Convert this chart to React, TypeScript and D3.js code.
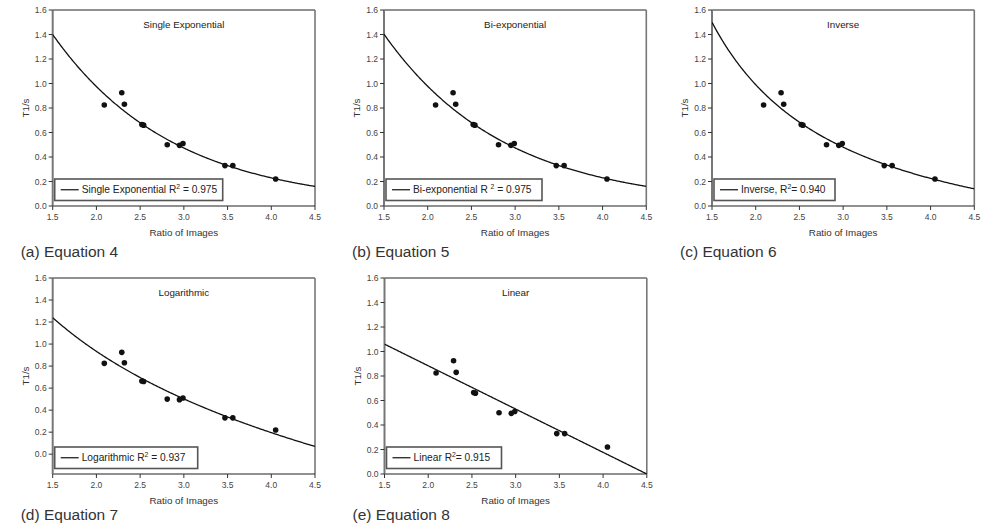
import React from "react";
import * as d3 from "d3";

// ---- data ----
const ratio = [2.09, 2.29, 2.32, 2.52, 2.54, 2.81, 2.95, 2.99, 3.47, 3.56, 4.05];
const t1 = [0.825, 0.925, 0.83, 0.665, 0.66, 0.5, 0.495, 0.51, 0.33, 0.33, 0.22];

const xTicks = [1.5, 2.0, 2.5, 3.0, 3.5, 4.0, 4.5];
const yTicks = [0.0, 0.2, 0.4, 0.6, 0.8, 1.0, 1.2, 1.4, 1.6];

const panelTitles = ["Single Exponential", "Bi-exponential", "Inverse", "Logarithmic", "Linear"];
const legendNames = ["Single Exponential R", "Bi-exponential R ", "Inverse, R", "Logarithmic R", "Linear R"];
const legendTails = [" = 0.975", " = 0.975", "= 0.940", " = 0.937", "= 0.915"];
const captions = ["(a) Equation 4", "(b) Equation 5", "(c) Equation 6", "(d) Equation 7", "(e) Equation 8"];

// fitted model coefficients
const singleExpFit = [4.14, 0.723]; // A, k : A*exp(-k x)
const biExpFit = [3.6, 0.715, 0.55, 0.78]; // A1,k1,A2,k2
const inverseFit = [-0.54, 3.06]; // a + b/x
const logFit = [1.672, -1.065]; // a + b ln x
const linearFit = [1.59, -0.3533]; // a + b x

const models: ((x: number) => number)[] = [
  (x) => singleExpFit[0] * Math.exp(-singleExpFit[1] * x),
  (x) => biExpFit[0] * Math.exp(-biExpFit[1] * x) + biExpFit[2] * Math.exp(-biExpFit[3] * x),
  (x) => inverseFit[0] + inverseFit[1] / x,
  (x) => logFit[0] + logFit[1] * Math.log(x),
  (x) => linearFit[0] + linearFit[1] * x,
];

// ---- layout ----
const layout = [
  { left: 52.7, top: 10, yMin: 0, legendW: 168 },
  { left: 384, top: 10, yMin: 0, legendW: 156 },
  { left: 712, top: 10, yMin: 0, legendW: 121 },
  { left: 52.7, top: 278, yMin: -0.18, legendW: 143 },
  { left: 384.5, top: 278, yMin: 0, legendW: 115 },
];
const PW = 262.3;
const PH = 196;
const FONT = "'Liberation Sans', Arial, Helvetica, sans-serif";

function Panel({ i }: { i: number }) {
  const L = layout[i];
  const x = d3.scaleLinear().domain([1.5, 4.5]).range([L.left, L.left + PW]);
  const y = d3.scaleLinear().domain([L.yMin, 1.6]).range([L.top + PH, L.top]);
  const bottom = L.top + PH;
  const right = L.left + PW;
  const xs = d3.range(1.5, 4.5001, 0.01);
  const line = d3
    .line<number>()
    .x((d) => x(d))
    .y((d) => y(models[i](d)));
  const clipId = `clip${i}`;
  const lx = L.left + 2;
  const ly = bottom - 27;
  const lh = 21.5;
  return (
    <g>
      <defs>
        <clipPath id={clipId}>
          <rect x={L.left} y={L.top} width={PW} height={PH} />
        </clipPath>
      </defs>
      {/* frame */}
      <line x1={L.left} x2={right} y1={L.top} y2={L.top} stroke="#222" strokeWidth={1} />
      <line x1={right} x2={right} y1={L.top} y2={bottom} stroke="#777" strokeWidth={1.6} />
      <line x1={L.left} x2={right} y1={bottom} y2={bottom} stroke="#222" strokeWidth={1.2} />
      <line x1={L.left} x2={L.left} y1={L.top} y2={bottom} stroke="#777" strokeWidth={2} />
      {/* y ticks */}
      {yTicks.map((t) => (
        <g key={"y" + t}>
          <line x1={L.left - 4} x2={L.left} y1={y(t)} y2={y(t)} stroke="#333" strokeWidth={1} />
          <text x={L.left - 6} y={y(t) + 3} textAnchor="end" fontSize={8.5} fill="#444" fontFamily={FONT}>
            {t.toFixed(1)}
          </text>
        </g>
      ))}
      {/* x ticks */}
      {xTicks.map((t) => (
        <g key={"x" + t}>
          <line x1={x(t)} x2={x(t)} y1={bottom} y2={bottom + 4} stroke="#333" strokeWidth={1} />
          <text x={x(t)} y={bottom + 14} textAnchor="middle" fontSize={8.5} fill="#444" fontFamily={FONT}>
            {t.toFixed(1)}
          </text>
        </g>
      ))}
      {/* axis titles */}
      <text x={(L.left + right) / 2} y={bottom + 30} textAnchor="middle" fontSize={9.8} fill="#333" fontFamily={FONT}>
        Ratio of Images
      </text>
      <text
        transform={`translate(${L.left - 24},${(L.top + bottom) / 2}) rotate(-90)`}
        textAnchor="middle"
        fontSize={9.8}
        fill="#333"
        fontFamily={FONT}
      >
        T1/s
      </text>
      {/* panel title */}
      <text x={(L.left + right) / 2} y={L.top + 18} textAnchor="middle" fontSize={9.8} fill="#222" fontFamily={FONT}>
        {panelTitles[i]}
      </text>
      {/* fit curve */}
      <path d={line(xs) || ""} fill="none" stroke="#111" strokeWidth={1.3} clipPath={`url(#${clipId})`} />
      {/* points */}
      {ratio.map((r, k) => (
        <circle key={k} cx={x(r)} cy={y(t1[k])} r={2.8} fill="#111" />
      ))}
      {/* legend */}
      <rect x={lx} y={ly} width={L.legendW} height={lh} fill="white" stroke="#555" strokeWidth={1.6} />
      <line x1={lx + 6} x2={lx + 24} y1={ly + lh / 2} y2={ly + lh / 2} stroke="#111" strokeWidth={1.2} />
      <text x={lx + 27} y={ly + lh / 2 + 3.7} fontSize={10.2} fill="#222" fontFamily={FONT}>
        {legendNames[i]}
        <tspan dy={-4.2} fontSize={6.8}>2</tspan>
        <tspan dy={4.2}>{legendTails[i]}</tspan>
      </text>
      {/* caption */}
      <text x={L.left - 32} y={i < 3 ? 256.5 : 520} fontSize={15.5} fill="#333" fontFamily={FONT}>
        {captions[i]}
      </text>
    </g>
  );
}

export default function App() {
  return (
    <svg
      width={993}
      height={530}
      style={{ position: "absolute", left: 0, top: 0, background: "white" }}
    >
      <rect x={0} y={0} width={993} height={530} fill="white" />
      {panelTitles.map((_, i) => (
        <Panel key={i} i={i} />
      ))}
    </svg>
  );
}
